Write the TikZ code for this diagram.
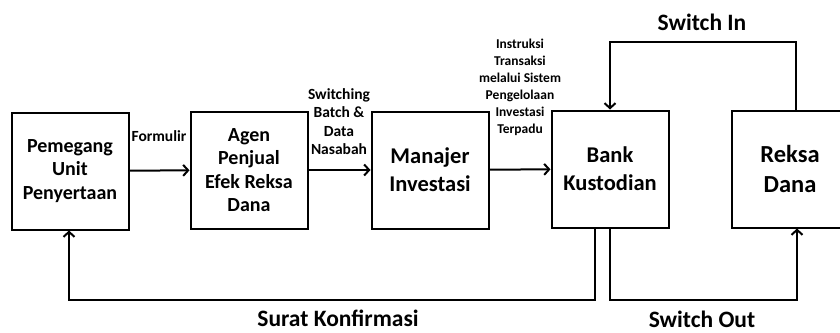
\documentclass[tikz,border=0pt]{standalone}
\usepackage{fontspec}
\setmainfont{Carlito}
\usetikzlibrary{arrows.meta, positioning}

\tikzset{
    box/.style={draw, line width=2pt, minimum width=117pt, minimum height=117pt,
        align=center, font=\bfseries\fontsize{20}{23.5}\selectfont},
    bigbox/.style={box, font=\bfseries\fontsize{22.5}{28}\selectfont},
    flow/.style={draw, line width=2pt, -{Straight Barb[length=5pt, width=11pt, line width=2pt]}},
    lbl/.style={align=center, inner sep=0pt, font=\bfseries\fontsize{15.5}{18.5}\selectfont},
    smalllbl/.style={lbl, font=\bfseries\fontsize{13.5}{17}\selectfont},
    biglbl/.style={lbl, font=\bfseries\fontsize{23.5}{27}\selectfont}
}

\begin{document}
\begin{tikzpicture}[x=1pt, y=-1pt]
    \useasboundingbox (0,0) rectangle (840,332);

    % Boxes
    \node[box] (pemegang) at (70, 171) {Pemegang\\Unit\\Penyertaan};
    \node[box] (agen) at (249, 170) {Agen\\Penjual\\Efek Reksa\\Dana};
    \node[bigbox] (manajer) at (430, 170) {Manajer\\Investasi};
    \node[bigbox] (bank) at (610, 169) {Bank\\Kustodian};
    \node[box, font=\bfseries\fontsize{24.5}{30}\selectfont] (reksa) at (790, 169) {Reksa\\Dana};

    % Forward flow
    \draw[flow] (pemegang) -- (agen);
    \draw[flow] (agen) -- (manajer);
    \draw[flow] (manajer) -- (bank);

    % Switching loops
    \draw[flow] ([xshift=6]reksa.north) -- ++(0,-68) -| (bank.north);
    \draw[flow] (bank.south) -- ++(0,71) -| ([xshift=7]reksa.south);
    \draw[flow] ([xshift=-15]bank.south) -- ++(0,71) -| ([xshift=-1]pemegang.south);

    % Labels
    \node[lbl] (formulir) at (159, 136) {Formulir};
    \node[lbl, anchor=south] (batch) at (339, 155) {Switching\\Batch \&\\Data\\Nasabah};
    \node[smalllbl, anchor=south] (instruksi) at (520, 136) {Instruksi\\Transaksi\\melalui Sistem\\Pengelolaan\\Investasi\\Terpadu};
    \node[biglbl] (switchin) at (702, 22) {Switch In};
    \node[biglbl] (switchout) at (702, 319) {Switch Out};
    \node[biglbl] (surat) at (338, 318) {Surat Konfirmasi};
\end{tikzpicture}
\end{document}
